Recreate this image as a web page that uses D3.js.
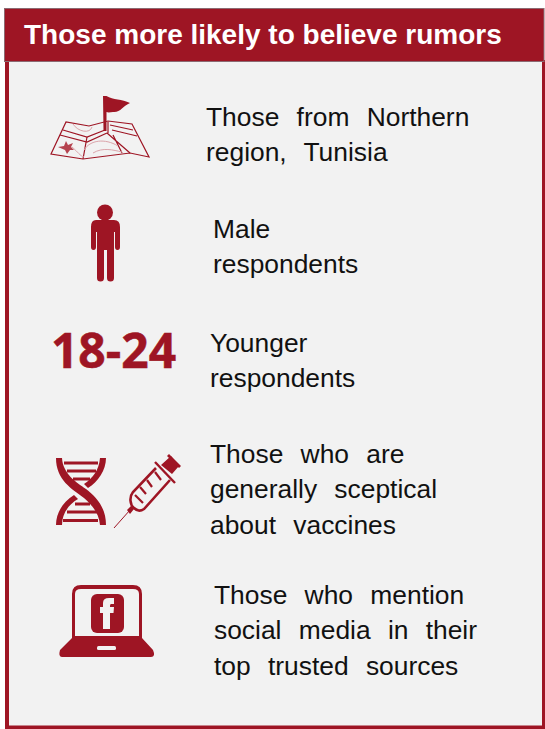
<!DOCTYPE html>
<html>
<head>
<meta charset="utf-8">
<script src="https://cdnjs.cloudflare.com/ajax/libs/d3/7.8.5/d3.min.js"></script>
<style>
  html, body { margin: 0; padding: 0; background: #fff; }
  svg { display: block; }
  text { font-family: "Liberation Sans", Arial, sans-serif; }
</style>
</head>
<body>
<svg id="chart" width="545" height="729"></svg>
<script>
const RED = "#9e1524";
const PANEL = "#f2f2f2";

const title = "Those more likely to believe rumors";

// text lines of each row, with word gaps wide as in the picture
const rowLines = [
  ["Those  from  Northern", "region,  Tunisia"],
  ["Male", "respondents"],
  ["Younger", "respondents"],
  ["Those  who  are", "generally  sceptical", "about  vaccines"],
  ["Those  who  mention", "social  media  in  their", "top  trusted  sources"]
];
const rowX = [206, 213, 210, 210, 214];
const rowFirstBaseline = [125.5, 238, 352, 463, 604];
const lineStep = 35.4;

const ageLabel = "18-24";

const svg = d3.select("#chart");

// panel
svg.append("rect").attr("x", 5).attr("y", 8).attr("width", 540).attr("height", 721).attr("fill", PANEL);
svg.append("rect").attr("x", 5).attr("y", 60).attr("width", 4).attr("height", 669).attr("fill", RED);
svg.append("rect").attr("x", 542).attr("y", 60).attr("width", 3).attr("height", 669).attr("fill", RED);
svg.append("rect").attr("x", 5).attr("y", 725.5).attr("width", 540).attr("height", 3.5).attr("fill", RED);

// header
svg.append("rect").attr("x", 4.5).attr("y", 8.5).attr("width", 539.5).attr("height", 53)
  .attr("fill", RED).attr("stroke", "#8c6a72").attr("stroke-width", 1);
svg.append("text").attr("x", 24).attr("y", 44).attr("fill", "#fff")
  .attr("font-size", 28).attr("font-weight", "bold").text(title);

// row text
rowLines.forEach((lines, i) => {
  const g = svg.append("g");
  lines.forEach((line, j) => {
    g.append("text")
      .attr("x", rowX[i])
      .attr("y", rowFirstBaseline[i] + j * lineStep)
      .attr("font-size", 26.4)
      .attr("word-spacing", 1.3)
      .attr("fill", "#111")
      .style("white-space", "pre")
      .text(line);
  });
});

// map icon
const map = svg.append("g").attr("fill", "none").attr("stroke", RED).attr("stroke-width", 1.2);
map.append("path").attr("d", "M51 154 L66 122 L89 126 L108 121 L132 124 L149 157 L130 153 L83 159 Z");
map.append("path").attr("d", "M63 130 L87 137 L105 130 M60 135 L87 142 L107 133 M110 125 L133 130 M112 130 L137 136");
map.append("path").attr("d", "M107 133 L130 153 M113 135 L122 153 M87 137 L83 159 M108 122 L108 133");
map.append("path").attr("stroke", "#dba5ab").attr("stroke-width", 1)
  .attr("d", "M73 124 C78 132 90 134 92 127 M84 150 C90 140 105 138 118 146 M72 147 C78 152 80 156 84 157 M93 153 C103 147 113 150 122 152");
svg.append("path").attr("fill", "#b5434f")
  .attr("d", "M66 141 L68 145 L73 143 L71 147 L74 150 L70 150 L67 154 L65 150 L58 147 L64 146 Z");
svg.append("path").attr("fill", RED)
  .attr("d", "M103 96 L106.5 96 C113 100 122 99 130 103 C123 106 120 113 113 112 C111 112 108.5 113 106.5 112 L106.5 131 L103.5 131 Z");

// person icon
const person = svg.append("g").attr("fill", RED);
person.append("circle").attr("cx", 105).attr("cy", 212.5).attr("r", 8);
person.append("path")
  .attr("d", "M96 220 L114 220 Q120 220 120 227 L120 247 Q120 250 117.5 250 Q115 250 115 247 L115 232 L114 232 L114 278 Q114 281.5 110.5 281.5 Q107 281.5 107 278 L107 250 L104 250 L104 278 Q104 281.5 100.5 281.5 Q97 281.5 97 278 L97 232 L96 232 L96 247 Q96 250 93.5 250 Q91 250 91 247 L91 227 Q91 220 96 220 Z");

// age label
svg.append("text").attr("x", 113.5).attr("y", 368).attr("text-anchor", "middle")
  .attr("fill", RED).attr("stroke", RED).attr("stroke-width", 0.5)
  .attr("font-size", 48).attr("font-weight", "bold")
  .style("font-family", "'Open Sans', sans-serif").text(ageLabel);

// dna icon
const dna = svg.append("g");
dna.append("path").attr("fill", RED)
  .attr("d", "M56 458 L62 458 C63 474 76 482 86 489 C96 497 106 507 106 525 L100 525 C99 513 92 505 84 498 C72 489 56 480 56 458 Z");
dna.append("path").attr("fill", RED)
  .attr("d", "M100 458 L106 458 C106 470 98 482 88 488 L84 484 C93 478 99 470 100 458 Z");
dna.append("path").attr("fill", RED)
  .attr("d", "M74 495 L78 499 C68 505 62 514 62 525 L56 525 C56 512 64 501 74 495 Z");
dna.append("g").attr("stroke", RED).attr("stroke-width", 3)
  .selectAll("line")
  .data([[64, 98, 463], [67, 96, 471], [73, 90, 479], [75, 90, 504], [67, 97, 512], [63, 98, 520.5]])
  .join("line")
  .attr("x1", d => d[0]).attr("x2", d => d[1]).attr("y1", d => d[2]).attr("y2", d => d[2]);

// syringe icon
const syr = svg.append("g").attr("fill", "none").attr("stroke", RED);
syr.append("path").attr("stroke-width", 2.6)
  .attr("d", "M156 468 L133 492 C129 497 130 505 134 508 C137 511 141 511 144 509 L170 480");
syr.append("path").attr("stroke-width", 2.4).attr("d", "M155 462 L175 483");
syr.append("path").attr("stroke-width", 2.2)
  .attr("d", "M135 495 L143 503 M140 487 L146 494 M147 480 L152 487 M155 472 L161 480");
syr.append("path").attr("stroke-width", 1).attr("d", "M130 510 L114 528");
svg.append("path").attr("fill", RED).attr("d", "M161 465 L171 456 L179 466 L172 474 Z M127 510 L131 506 L134 509 L130 514 Z");
syr.append("path").attr("stroke-width", 2.8).attr("d", "M168 455 L180 467");

// laptop icon
const lap = svg.append("g");
lap.append("path").attr("fill", RED).attr("fill-rule", "evenodd")
  .attr("d", "M72 638 L72 594 Q72 585 81 585 L133 585 Q142 585 142 594 L142 638 L153 650 Q156 657 151 657 L62 657 Q58 657 60 650 Z M75 636 L139 636 L139 594 Q139 589 133 589 L81 589 Q75 589 75 594 Z");
lap.append("rect").attr("x", 97).attr("y", 646).attr("width", 19).attr("height", 4).attr("rx", 1.5).attr("fill", PANEL);
lap.append("rect").attr("x", 91).attr("y", 594).attr("width", 33).attr("height", 39).attr("rx", 6).attr("fill", RED);
lap.append("path").attr("fill", PANEL)
  .attr("d", "M103 629 L103 613 L100 613 L100 607 L103 607 L103 603 Q103 598 109 598 L114 598 L114 604 L111 604 Q110 604 110 606 L110 607 L114 607 L113.5 613 L110 613 L110 629 Z");
</script>
</body>
</html>
